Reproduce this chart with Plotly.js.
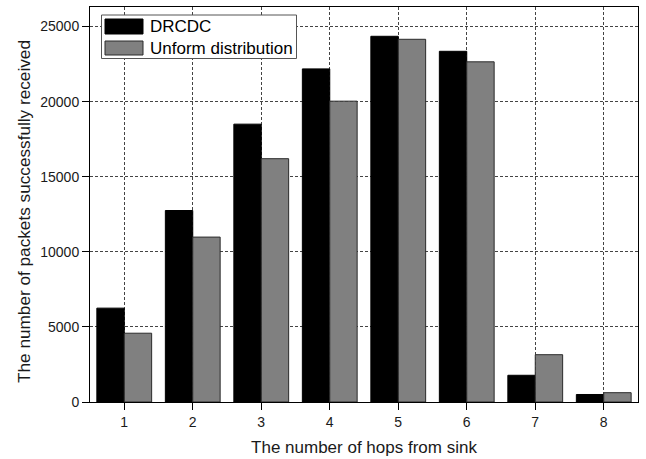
<!DOCTYPE html>
<html>
<head>
<meta charset="utf-8">
<script src="https://cdn.plot.ly/plotly-3.0.1.min.js"></script>
<style>
  html, body { margin: 0; padding: 0; background: #fff; }
  #chart { width: 646px; height: 459px; }
</style>
</head>
<body>
<div id="chart"></div>
<script>
// Hop counts from the sink node
const hops = [1, 2, 3, 4, 5, 6, 7, 8];
const hopLabels = ['1', '2', '3', '4', '5', '6', '7', '8'];

// Packets successfully received per hop distance
const drcdcName = 'DRCDC';
const drcdcPackets = [6250, 12750, 18500, 22180, 24350, 23350, 1780, 500];

const uniformName = 'Unform distribution';
const uniformPackets = [4580, 10980, 16200, 20030, 24150, 22650, 3150, 620];

const yTicks = [0, 5000, 10000, 15000, 20000, 25000];

const xTitle = 'The number of hops from sink';
const yTitle = 'The number of packets successfully received';

const FONT = '"Liberation Sans", Arial, Helvetica, sans-serif';
const W = 646, H = 459;
const M = { l: 90, r: 8, t: 7, b: 57 };
const PW = W - M.l - M.r, PH = H - M.t - M.b;

// pixel -> paper helpers for the hand-drawn legend and side title
const px = x => (x - M.l) / PW;
const py = y => (H - M.b - y) / PH;

const traces = [
  {
    type: 'bar', name: drcdcName, x: hops, y: drcdcPackets,
    marker: { color: '#000000', line: { color: '#000000', width: 1 } },
    showlegend: false, hoverinfo: 'x+y'
  },
  {
    type: 'bar', name: uniformName, x: hops, y: uniformPackets,
    marker: { color: '#808080', line: { color: '#2b2b2b', width: 1 } },
    showlegend: false, hoverinfo: 'x+y'
  }
];

const gridCommon = {
  showgrid: true, gridcolor: '#444', gridwidth: 1, griddash: '3px,2px',
  showline: true, linecolor: '#000', linewidth: 1, mirror: true,
  ticks: 'outside', ticklen: 7, tickwidth: 1, tickcolor: '#000',
  tickfont: { family: FONT, size: 14, color: '#1a1a1a' },
  zeroline: false
};

const legendX0 = 101.5, legendX1 = 296.5, legendY0 = 15, legendY1 = 58.5;
const swatchX0 = 105, swatchX1 = 143;
const rows = [
  { name: drcdcName, fill: '#000000', line: '#000000', top: 19, bottom: 34 },
  { name: uniformName, fill: '#808080', line: '#2b2b2b', top: 41, bottom: 55 }
];

const shapes = [{
  type: 'rect', xref: 'paper', yref: 'paper', layer: 'above',
  x0: px(legendX0), x1: px(legendX1), y0: py(legendY1), y1: py(legendY0),
  fillcolor: '#ffffff', line: { color: '#555', width: 1 }
}];
const annotations = [];
rows.forEach(r => {
  shapes.push({
    type: 'rect', xref: 'paper', yref: 'paper', layer: 'above',
    x0: px(swatchX0), x1: px(swatchX1), y0: py(r.bottom), y1: py(r.top),
    fillcolor: r.fill, line: { color: r.line, width: 1 }
  });
  annotations.push({
    xref: 'paper', yref: 'paper', x: px(148), y: py((r.top + r.bottom) / 2),
    xanchor: 'left', yanchor: 'middle', showarrow: false, text: r.name,
    font: { family: FONT, size: 17, color: '#000' }
  });
});

// vertical axis title, placed by hand
annotations.push({
  xref: 'paper', yref: 'paper', x: px(24), y: py(212),
  xanchor: 'center', yanchor: 'middle', showarrow: false, textangle: -90,
  text: yTitle, font: { family: FONT, size: 17.2, color: '#1a1a1a' }
});

const layout = {
  width: W, height: H,
  margin: M,
  paper_bgcolor: '#ffffff', plot_bgcolor: '#ffffff',
  barmode: 'group', bargap: 0.2, bargroupgap: 0,
  showlegend: false,
  font: { family: FONT, color: '#1a1a1a' },
  xaxis: Object.assign({}, gridCommon, {
    range: [0.5, 8.5], tickvals: hops, ticktext: hopLabels,
    title: { text: xTitle, font: { family: FONT, size: 17, color: '#1a1a1a' }, standoff: 12 }
  }),
  yaxis: Object.assign({}, gridCommon, {
    range: [0, 26300], tickvals: yTicks, ticktext: yTicks.map(String)
  }),
  // inward tick marks along the top and right frame
  xaxis2: {
    overlaying: 'x', matches: 'x', side: 'top', anchor: 'y',
    range: [0.5, 8.5], tickvals: hops, showticklabels: false, showgrid: false,
    ticks: 'inside', ticklen: 6, tickcolor: '#000', showline: false, zeroline: false
  },
  yaxis2: {
    overlaying: 'y', matches: 'y', side: 'right', anchor: 'x',
    range: [0, 26300], tickvals: yTicks, showticklabels: false, showgrid: false,
    ticks: 'inside', ticklen: 6, tickcolor: '#000', showline: false, zeroline: false
  },
  shapes: shapes,
  annotations: annotations
};

Plotly.newPlot('chart', traces, layout, { displayModeBar: false, staticPlot: true });
</script>
</body>
</html>
